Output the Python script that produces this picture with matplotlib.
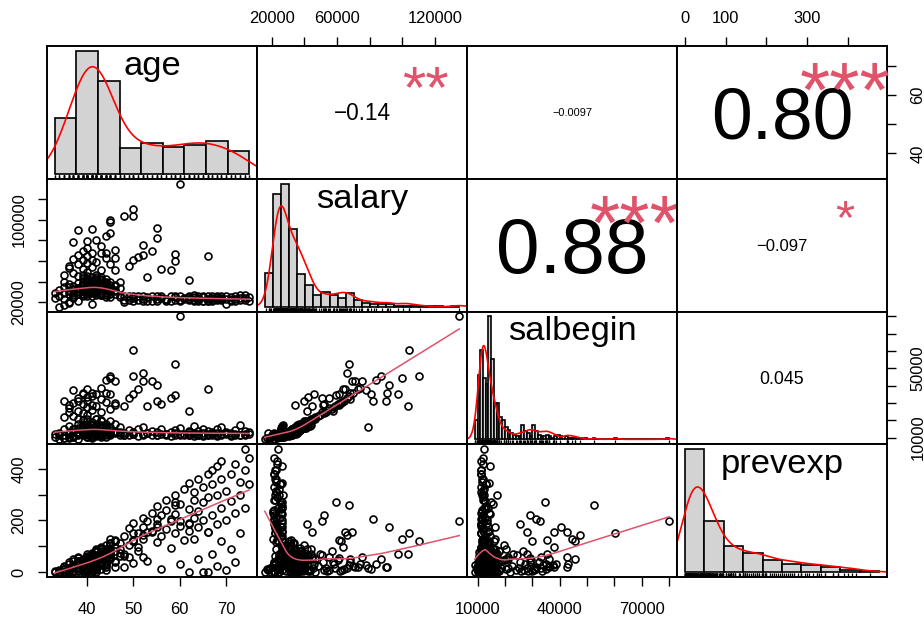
import numpy as np
import matplotlib
matplotlib.use("Agg")
import matplotlib.pyplot as plt
from matplotlib.transforms import offset_copy

plt.rcParams["font.family"] = ["Liberation Sans", "DejaVu Sans"]

names = ["age", "salary", "salbegin", "prevexp"]

# ---- records (estimated) ----
# younger clerical staff
young_age = [33, 33,
             34, 34, 34,
             35, 35, 35, 35,
             36, 36, 36, 36, 36,
             37, 37, 37, 37, 37, 37,
             38, 38, 38, 38, 38, 38, 38, 38,
             39, 39, 39, 39, 39, 39, 39, 39, 39, 39, 39, 39,
             40, 40, 40, 40, 40, 40, 40, 40, 40, 40, 40, 40, 40, 40, 40,
             41, 41, 41, 41, 41, 41, 41, 41, 41, 41, 41, 41, 41, 41, 41,
             42, 42, 42, 42, 42, 42, 42, 42, 42, 42, 42, 42, 42,
             43, 43, 43, 43, 43, 43, 43, 43, 43, 43, 43, 43, 43, 43,
             44, 44, 44, 44, 44, 44, 44, 44, 44, 44, 44,
             45, 45, 45, 45, 45, 45, 45, 45,
             46, 46, 46, 46, 46,
             47, 47, 47, 47]
young_salary = [24000, 28500, 15750,
                26250, 31500, 23400, 34500, 17400,
                29250, 19800, 37500, 27600, 18900,
                30600, 33000, 24300, 28800, 36000, 26700,
                25500, 33600, 28200, 39000, 30900, 21600, 32700,
                29600, 33800, 37700, 25850, 43400, 31100, 35600, 28100, 39800, 32300,
                31200, 35400, 28050, 38100, 43200, 33600, 25800, 37200, 30900, 40200, 32400,
                34800, 29700, 39300, 32700, 45600, 36300, 27600, 41400, 33000, 30900, 37800, 18300,
                30300, 35700, 40500, 28650, 33450, 44100, 37200, 31800, 26400, 39900, 34500,
                32550, 36900, 29100, 42300, 34050, 38700, 27000, 31350, 46800, 35250, 40800,
                33750, 30300, 37500, 28200, 41850, 35400, 32100, 39450, 26700, 44700,
                31000, 35800, 28900, 34450, 42400, 26950, 37900, 32650, 40000, 24700,
                31850, 36650, 28850, 34550, 42500, 27200, 38150, 33200, 29750,
                31500, 27600, 37050, 34350, 39900, 25350, 30750, 35250,
                28200, 31650, 36750, 24600, 33450, 27450, 39600]
young_salbegin = [10200, 12000, 9000,
                  11250, 12750, 9750, 15000, 9750,
                  11250, 10500, 16500, 12750, 9900,
                  12000, 15000, 10500, 13500, 14700, 10950,
                  10500, 13200, 12000, 18000, 12750, 9000, 15000,
                  11250, 15750, 14700, 11250, 20250, 12750, 17250, 12750, 16500, 15000,
                  13500, 12750, 12000, 17250, 16500, 15000, 10500, 14250, 12750, 19500, 11700,
                  12000, 12750, 18000, 14700, 21000, 13500, 10500, 16500, 15000, 11250, 17250, 9750,
                  13500, 12900, 18750, 10950, 15000, 17250, 14250, 14250, 10500, 15750, 15000,
                  11700, 16500, 12600, 16500, 12750, 18000, 11250, 13800, 21000, 13200, 15750,
                  15000, 10950, 17250, 11700, 16500, 13050, 14250, 15300, 10500, 20250,
                  11400, 16500, 12750, 12600, 19500, 11250, 14700, 14700, 15750, 10200,
                  14250, 14100, 12750, 15750, 16800, 11700, 17700, 12600, 13500,
                  12000, 12750, 14250, 16200, 19500, 11250, 14100, 13500,
                  13500, 12600, 18000, 11700, 13500, 12750, 16200]
young_prevexp = [0, 6, 2,
                 10, 0, 18, 4, 12,
                 24, 0, 8, 30, 15,
                 38, 5, 20, 44, 0, 28,
                 50, 12, 35, 3, 55, 26, 42,
                 42, 6, 21, 32, 11, 46, 1, 27, 36, 14,
                 50, 10, 41, 28, 4, 56, 21, 34, 15, 45, 0,
                 60, 25, 7, 43, 17, 63, 35, 49, 3, 31, 55, 11,
                 67, 41, 14, 53, 28, 70, 6, 46, 62, 22, 74,
                 77, 32, 56, 10, 67, 42, 83, 20, 50, 0, 60,
                 84, 45, 69, 27, 88, 38, 59, 13, 76, 50,
                 92, 63, 34, 80, 46, 98, 18, 70, 55, 39,
                 105, 73, 49, 90, 64, 28, 81, 111, 57,
                 112, 78, 95, 53, 105, 66, 119, 41,
                 99, 123, 83, 62, 113, 91, 73]

# managers (the high salary points)
mgr_age = [60, 50, 50, 48, 45, 45, 45, 55, 55, 38,
           41, 44, 40, 42, 52, 59, 66, 59, 56, 58,
           62, 46, 49, 53, 50, 51, 43, 46, 44, 54,
           52,
           36, 37, 37, 38, 38, 38, 39, 39, 39, 40,
           40, 40, 40, 41, 41, 41, 42, 42, 43, 43,
           44, 35, 36, 37, 45, 46, 39, 36, 35, 40]
mgr_salary = [135000, 103900, 110600, 103800, 100000, 97400, 87200, 92000, 82300, 90400,
              91000, 83900, 79000, 80700, 66000, 67100, 65200, 59700, 52300, 51000,
              41900, 51600, 54900, 44600, 61300, 63600, 74200, 71000, 67800, 69400,
              75200,
              55000, 48500, 62000, 57500, 66000, 45000, 70000, 52000, 60500, 58000,
              64500, 49500, 73000, 54000, 61000, 67500, 44000, 59000, 68000, 51000,
              63000, 46500, 53000, 78000, 57000, 62500, 46000, 34300, 40000, 42000]
mgr_salbegin = [79980, 60300, 45500, 28100, 44600, 35400, 45500, 40300, 31200, 31200,
                36000, 43000, 16100, 35000, 47500, 52700, 37900, 34600, 29200, 32700,
                25400, 29000, 33000, 28200, 35400, 37900, 38800, 42600, 36000, 42600,
                42600,
                27000, 22500, 30000, 25500, 33000, 21000, 36000, 24000, 29500, 27500,
                31000, 23000, 38000, 26000, 29000, 34000, 20500, 28000, 32500, 24500,
                30500, 22000, 25000, 37500, 26500, 30000, 35000, 28600, 31000, 33500]
mgr_prevexp = [199, 150, 120, 69, 128, 69, 49, 175, 206, 21,
               21, 30, 15, 12, 143, 259, 156, 270, 220, 198,
               185, 40, 60, 156, 124, 98, 30, 20, 50, 154,
               60,
               10, 25, 5, 38, 14, 60, 22, 8, 45, 30,
               12, 70, 18, 3, 55, 27, 90, 16, 40, 65,
               7, 2, 15, 28, 80, 120, 33, 4, 12, 6]

# older staff
old_age = [48, 48, 48, 49, 49, 50, 50, 50, 51, 51,
           52, 52, 52, 53, 53, 54, 54, 55, 55, 55, 56, 56,
           57, 57, 57, 58, 58, 59, 59, 59, 60, 60, 60, 61, 61,
           62, 62, 62, 62, 62, 63, 63, 63, 63, 64, 64, 64, 64, 65, 65, 65, 65,
           66, 66, 66, 66, 67, 67, 67, 67, 68, 68, 68, 68, 69, 69, 69, 69, 70, 70, 70,
           71, 71, 71, 72, 72, 72, 73, 73, 73, 74, 74, 74, 75, 75]
old_salary = [22050, 25650, 20400, 25800, 21750, 23850, 21300, 26400, 21750, 26100,
              22800, 21000, 26250, 24900, 21300, 26400, 21000, 22650, 26100, 21300, 26400, 24150,
              21600, 23550, 21750, 26400, 21450, 24600, 22050, 26100, 21900, 25950, 21600, 24300, 23400,
              21900, 25500, 22650, 26100, 23100, 21150, 25050, 26550, 22500, 22350, 25800, 21000, 23850,
              26100, 21300, 21150, 24750,
              23250, 21600, 26100, 21600, 25950, 21450, 24450, 22350, 22050, 26400, 22800, 24900,
              21750, 24150, 26100, 23100, 22800, 26250, 17850,
              21450, 25200, 22500, 23550, 25800, 21150, 22350, 26700, 23700, 23700, 21750, 26550,
              21600, 25350]
old_salbegin = [11250, 12750, 11400, 14250, 11550, 12000, 12150, 13500, 11100, 15000,
                11700, 11850, 16200, 12600, 12450, 14100, 11250, 11550, 13200, 11400, 14700, 12300,
                11550, 12000, 11850, 13350, 11100, 12450, 11250, 14400, 11400, 15600, 12000, 12300, 11700,
                11250, 13050, 11700, 14100, 12000, 12300, 12750, 16500, 11100, 11700, 13800, 11550, 12300,
                15000, 11100, 11700, 12600,
                12000, 11400, 13950, 11250, 13200, 12150, 12450, 11250, 11550, 14700, 11100, 12900,
                11850, 12300, 15900, 11400, 11850, 13500, 12450,
                11100, 12900, 11550, 12150, 14250, 11250, 11700, 17250, 11250, 12300, 11250, 13650,
                12000, 13050]
old_prevexp = [62, 140, 18, 105, 170, 120, 35, 190, 150, 82,
               210, 130, 175, 44, 198, 160, 230, 115, 255, 185, 140, 12,
               240, 165, 280, 95, 205, 300, 150, 225, 180, 265, 30, 320, 125,
               2, 245, 190, 345, 160, 280, 210, 130, 310, 360, 175, 235, 50,
               270, 330, 200, 0,
               290, 380, 155, 0, 340, 220, 70, 395, 300, 410, 185, 25,
               360, 250, 120, 430, 315, 200, 8,
               380, 275, 90, 420, 230, 40, 350, 300, 150, 476, 395, 250,
               440, 340]

# ---- histogram bars ----
hist_start = [33, 15000, 9000, 0]
hist_width = [42 / 9, 5000, 1000, 50]
age_counts = [60, 133, 100, 28, 33, 29, 31, 35, 25]
salary_counts = [33, 111, 121, 76, 32, 21, 11, 14, 11, 8, 13, 6,
                 4, 3, 3, 3, 1, 1, 1, 1, 1, 1, 0, 1]
salbegin_counts = [12, 41, 57, 39, 35, 78, 51, 23, 23, 14,
                   12, 8, 6, 4, 3, 2, 2, 9, 5, 4,
                   2, 9, 5, 3, 2, 2, 3, 2, 1, 2,
                   3, 2, 0, 2, 1, 1, 1, 0, 1, 0,
                   1, 0, 0, 1, 0, 0, 0, 0, 0, 0,
                   0, 1, 0, 0, 0, 0, 0, 0, 0, 0,
                   0, 0, 0, 0, 0, 0, 0, 0, 0, 0, 1]
prevexp_counts = [227, 95, 49, 35, 23, 15, 14, 10, 4, 2]

# ---- upper panels: correlations as printed ----
cor_cells = [(0, 1), (0, 2), (0, 3), (1, 2), (1, 3), (2, 3)]
cor_values = [-0.14, -0.0097, 0.80, 0.88, -0.097, 0.045]
cor_labels = ["\u22120.14", "\u22120.0097", "0.80", "0.88", "\u22120.097", "0.045"]
cor_stars = ["**", "", "***", "***", "*", ""]

# ---- outer axes ticks ----
age_ticks = [40, 50, 60, 70]
salary_ticks = [20000, 40000, 60000, 80000, 100000, 120000]
salbegin_ticks = [10000, 20000, 30000, 40000, 50000, 60000, 70000, 80000]
prevexp_ticks = [0, 100, 200, 300, 400]
top_labels = {1: ["20000", "", "60000", "", "", "120000"],
              3: ["0", "100", "", "300", ""]}
bottom_labels = {0: ["40", "50", "60", "70"],
                 2: ["10000", "", "", "40000", "", "", "70000", ""]}
left_labels = {1: ["20000", "", "", "", "100000", ""],
               3: ["0", "", "200", "", "400"]}
right_labels = {0: ["40", "", "60", ""],
                2: ["10000", "", "", "", "50000", "", "", ""]}

for grp in [(young_age, young_salary, young_salbegin, young_prevexp),
            (mgr_age, mgr_salary, mgr_salbegin, mgr_prevexp),
            (old_age, old_salary, old_salbegin, old_prevexp)]:
    assert len(set(len(g) for g in grp)) == 1, [len(g) for g in grp]

age = np.array(young_age + mgr_age + old_age, dtype=float)
salary = np.array(young_salary + mgr_salary + old_salary, dtype=float)
salbegin = np.array(young_salbegin + mgr_salbegin + old_salbegin, dtype=float)
prevexp = np.array(young_prevexp + mgr_prevexp + old_prevexp, dtype=float)
data = [age, salary, salbegin, prevexp]
counts = [age_counts, salary_counts, salbegin_counts, prevexp_counts]
ticks = [age_ticks, salary_ticks, salbegin_ticks, prevexp_ticks]


def padded(v):
    d = (v.max() - v.min()) * 0.04
    return v.min() - d, v.max() + d


def kde(v):
    n = len(v)
    q75, q25 = np.percentile(v, [75, 25])
    bw = 0.9 * min(v.std(ddof=1), (q75 - q25) / 1.34) * n ** -0.2
    grid = np.linspace(v.min() - 3 * bw, v.max() + 3 * bw, 512)
    dens = np.exp(-0.5 * ((grid[:, None] - v[None, :]) / bw) ** 2).sum(1)
    return grid, dens / (n * bw * np.sqrt(2 * np.pi))


def lowess(x, y, f=2 / 3, iters=3):
    o = np.argsort(x, kind="mergesort")
    x, y = x[o], y[o]
    n = len(x)
    ns = max(min(int(f * n + 1e-7), n), 2)
    rw = np.ones(n)
    fit = np.zeros(n)
    for it in range(iters + 1):
        for i in range(n):
            d = np.abs(x - x[i])
            h = max(np.sort(d)[ns - 1], 1e-12)
            u = d / h
            w = np.where(u < 1, (1 - u ** 3) ** 3, 0) * rw
            sw = w.sum()
            xm = (w * x).sum() / sw
            ym = (w * y).sum() / sw
            c = (w * (x - xm) ** 2).sum()
            b = (w * (x - xm) * y).sum() / c if np.sqrt(c / sw) > 0.001 * (x[-1] - x[0]) else 0
            fit[i] = ym + b * (x[i] - xm)
        if it == iters:
            break
        res = y - fit
        s = 6 * np.median(np.abs(res))
        u = res / s
        rw = np.where(np.abs(u) < 1, (1 - u ** 2) ** 2, 0)
    return x, fit


fig, axes = plt.subplots(4, 4, figsize=(9.24, 6.17), dpi=100)
fig.subplots_adjust(left=47 / 924, right=887 / 924, bottom=1 - 577 / 617, top=1 - 46 / 617,
                    wspace=0, hspace=0)

tick_font = 11.9
for i in range(4):
    for j in range(4):
        ax = axes[i][j]
        for sp in ax.spines.values():
            sp.set_linewidth(1.4)
        ax.tick_params(which="both", bottom=False, top=False, left=False, right=False,
                       labelbottom=False, labeltop=False, labelleft=False, labelright=False)

        if i == j:
            cnt = np.array(counts[i], dtype=float)
            edges = hist_start[i] + hist_width[i] * np.arange(len(cnt) + 1)
            dens = cnt / (cnt.sum() * hist_width[i])
            ax.bar(edges[:-1], dens, width=hist_width[i], align="edge",
                   color="#D3D3D3", edgecolor="black", linewidth=1.2)
            span = edges[-1] - edges[0]
            ax.set_xlim(edges[0] - 0.04 * span, edges[-1] + 0.04 * span)
            ax.set_ylim(-0.04 * dens.max(), 1.04 * dens.max())
            g, d = kde(data[i])
            ax.plot(g, d, color="red", linewidth=1.2)
            ax.vlines(data[i], 0, 0.03, transform=ax.get_xaxis_transform(),
                      color="black", linewidth=0.9)
            ax.text(0.5, 1 - 29 / 133, names[i], transform=ax.transAxes,
                    ha="center", va="baseline", fontsize=24.8)
            continue

        ax.set_xlim(padded(data[j]))
        ax.set_ylim(padded(data[i]))
        if i > j:
            ax.plot(data[j], data[i], "o", mfc="none", mec="black", ms=5.0, mew=1.2)
            lx, ly = lowess(data[j], data[i])
            ax.plot(lx, ly, color="#DF536B", linewidth=1.1)

        # outer axes
        if i == 0 and j in top_labels:
            ax.set_xticks(ticks[j], top_labels[j])
            ax.tick_params(axis="x", top=True, labeltop=True, pad=7.5)
        if i == 3 and j in bottom_labels:
            ax.set_xticks(ticks[j], bottom_labels[j])
            ax.tick_params(axis="x", bottom=True, labelbottom=True, pad=10.9)
        if j == 0 and i in left_labels:
            ax.set_yticks(ticks[i], left_labels[i])
            ax.tick_params(axis="y", left=True, labelleft=True, pad=8.0, labelrotation=90)
        if j == 3 and i in right_labels:
            ax.set_yticks(ticks[i], right_labels[i])
            ax.tick_params(axis="y", right=True, labelright=True, pad=10.2, labelrotation=90)
        ax.tick_params(length=6.8, width=1.0, labelsize=tick_font)
        for t in ax.get_yticklabels():
            t.set_va("center")

renderer = fig.canvas.get_renderer()
for (i, j), r, lab, st in zip(cor_cells, cor_values, cor_labels, cor_stars):
    ax = axes[i][j]
    pw = ax.get_window_extent(renderer).width
    t = ax.text(0.5, 0.5, lab, fontsize=10, ha="center", va="baseline", transform=ax.transAxes)
    base = 10 * 0.8 * pw / t.get_window_extent(renderer).width
    fs = base * (abs(r) + 0.3) / 1.3
    t.set_fontsize(fs)
    t.set_transform(offset_copy(ax.transAxes, fig=fig, y=-0.358 * fs, units="points"))
    if st:
        sfs = 0.9 * base
        ax.text(0.8, 0.8, st, fontsize=sfs, color="#DF536B", ha="center", va="baseline",
                transform=offset_copy(ax.transAxes, fig=fig, y=-0.57 * sfs, units="points"))

fig.savefig("out.png", dpi=100)
